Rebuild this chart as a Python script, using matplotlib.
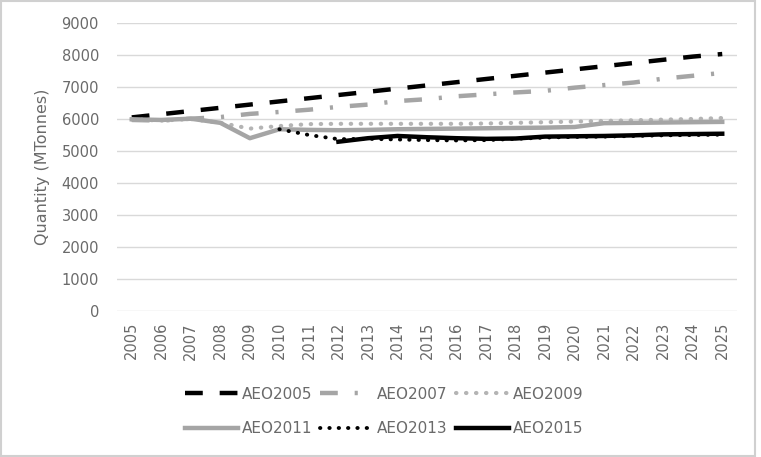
import matplotlib.pyplot as plt
from matplotlib.patches import Rectangle

years = list(range(2005, 2026))

aeo2005 = [6050, 6150, 6250, 6350, 6450, 6550, 6650, 6750, 6850, 6950, 7050,
           7150, 7250, 7350, 7450, 7550, 7650, 7750, 7850, 7950, 8030]
aeo2007 = [5970, 5950, 6010, 6060, 6160, 6220, 6290, 6380, 6450, 6560, 6620,
           6710, 6770, 6830, 6880, 6980, 7060, 7140, 7260, 7350, 7440]
aeo2009 = [5990, 5950, 6000, 5880, 5700, 5780, 5840, 5850, 5850, 5850, 5850,
           5850, 5860, 5880, 5900, 5920, 5940, 5960, 5980, 6000, 6030]
aeo2011 = [5990, 5970, 6010, 5880, 5400, 5680, 5660, 5650, 5660, 5680, 5690,
           5700, 5710, 5720, 5730, 5750, 5870, 5880, 5890, 5900, 5910]
aeo2013_years = list(range(2010, 2026))
aeo2013 = [5680, 5500, 5370, 5380, 5360, 5340, 5330, 5340, 5380, 5420, 5440,
           5450, 5470, 5490, 5500, 5510]
aeo2015_years = list(range(2012, 2026))
aeo2015 = [5290, 5400, 5470, 5430, 5400, 5380, 5390, 5450, 5460, 5470, 5490,
           5520, 5530, 5540]

text_gray = "#6A6A6A"
grid_gray = "#D9D9D9"

fig = plt.figure(figsize=(7.61, 4.57), dpi=100)
ax = fig.add_axes([117 / 761, 1 - 311 / 457, 620 / 761, 288 / 457])

x = {y: i for i, y in enumerate(years)}


def pos(yrs):
    return [x[y] for y in yrs]


lw = 3.2
l05, = ax.plot(pos(years), aeo2005, color="black", lw=lw,
               linestyle=(0, (4.0, 3.8)), solid_capstyle="butt", label="AEO2005")
l07, = ax.plot(pos(years), aeo2007, color="#A5A5A5", lw=lw,
               linestyle=(0, (4.0, 3.8, 0.7, 3.8)), label="AEO2007")
l09, = ax.plot(pos(years), aeo2009, color="#B4B4B4", lw=3.0,
               linestyle=(0, (0.1, 2.3)), dash_capstyle="round", label="AEO2009")
l11, = ax.plot(pos(years), aeo2011, color="#A5A5A5", lw=lw, label="AEO2011")
l13, = ax.plot(pos(aeo2013_years), aeo2013, color="black", lw=2.8,
               linestyle=(0, (0.1, 2.3)), dash_capstyle="round", label="AEO2013")
l15, = ax.plot(pos(aeo2015_years), aeo2015, color="black", lw=lw, label="AEO2015")

ax.set_xlim(-0.5, len(years) - 0.5)
ax.set_ylim(0, 9000)
ax.set_yticks(range(0, 9001, 1000))
ax.set_xticks(range(len(years)))
ax.set_xticklabels([str(y) for y in years], rotation=90)
ax.grid(axis="y", color=grid_gray, lw=1)
ax.set_axisbelow(True)
for s in ax.spines.values():
    s.set_visible(False)
ax.tick_params(axis="y", length=0, pad=13, labelsize=10.5, labelcolor=text_gray)
ax.tick_params(axis="x", length=0, pad=8, labelsize=10.5, labelcolor=text_gray)
ax.set_ylabel("Quantity (MTonnes)", fontsize=11.5, color=text_gray, labelpad=8)

handles = [l05, l11, l07, l13, l09, l15]
fig.legend(handles=handles, labels=[h.get_label() for h in handles], ncol=3,
           loc="center", bbox_to_anchor=(384 / 761, 0.0996), frameon=False,
           fontsize=11, labelcolor=text_gray, handlelength=3.5,
           handletextpad=0.25, columnspacing=0.5, labelspacing=1.3)

fig.patches.append(Rectangle((1 / 761, 1 / 457), 754 / 761, 455 / 457,
                             transform=fig.transFigure, fill=False,
                             edgecolor="#D0D0D0", lw=1.5))

fig.savefig("out.png", dpi=100)
